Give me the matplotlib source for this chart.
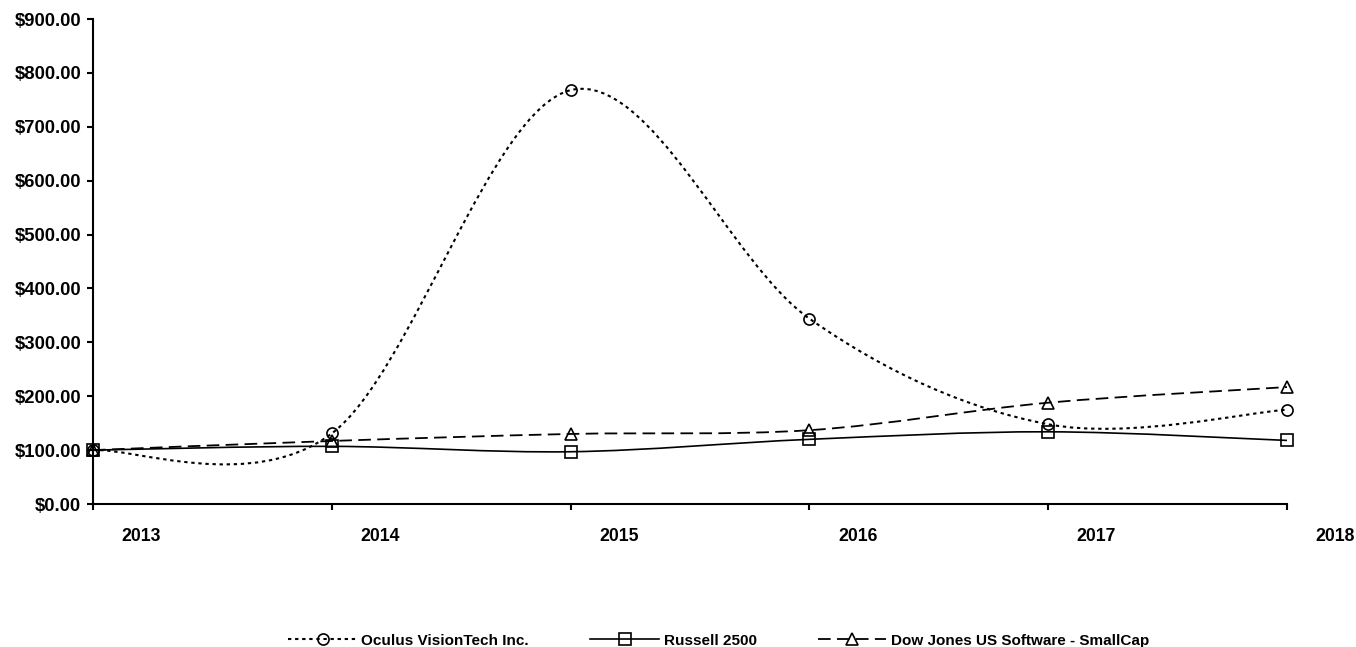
"""Five-year cumulative total return comparison (smoothed lines, Excel style)."""
import matplotlib
matplotlib.use("Agg")
import matplotlib.pyplot as plt
import numpy as np
from matplotlib.lines import Line2D
from matplotlib.path import Path
from matplotlib.patches import PathPatch
from matplotlib.ticker import FuncFormatter

plt.rcParams["font.family"] = ["Liberation Sans", "DejaVu Sans"]
plt.rcParams["font.weight"] = "bold"

years = ["2013", "2014", "2015", "2016", "2017", "2018"]
oculus = [100, 131, 768, 344, 148, 175]
russell = [100, 107, 97, 120, 134, 118]
dowjones = [100, 117, 130, 137, 188, 217]

series = [
    ("Oculus VisionTech Inc.", oculus, (0, (1.6, 1.8)), "o", 1.5),
    ("Russell 2500", russell, "-", "s", 1.2),
    ("Dow Jones US Software - SmallCap", dowjones, (0, (7.0, 3.5)), "^", 1.3),
]


def smooth_path(xs, ys):
    # Catmull-Rom style bezier segments, like Excel's "smoothed line"
    pts = np.column_stack([xs, ys]).astype(float)
    n = len(pts)
    verts = [pts[0]]
    codes = [Path.MOVETO]
    for i in range(n - 1):
        p0 = pts[max(i - 1, 0)]
        p1, p2 = pts[i], pts[i + 1]
        p3 = pts[min(i + 2, n - 1)]
        verts += [p1 + (p2 - p0) / 6, p2 - (p3 - p1) / 6, p2]
        codes += [Path.CURVE4] * 3
    return Path(verts, codes)


fig = plt.figure(figsize=(13.56, 6.47), dpi=100)
ax = fig.add_axes([0.0686, 0.2210, 0.8805, 0.7496])

x = np.arange(len(years))
handles = []
for name, vals, ls, mk, lw in series:
    ax.add_patch(PathPatch(smooth_path(x, vals), fill=False, edgecolor="black",
                           linewidth=lw, linestyle=ls, capstyle="butt"))
    ax.plot(x, vals, ls="none", marker=mk, markersize=8, markerfacecolor="none",
            markeredgecolor="black", markeredgewidth=1.2, clip_on=False, zorder=3)
    handles.append(Line2D([], [], color="black", lw=lw, ls=ls, marker=mk, markersize=8,
                          markerfacecolor="none", markeredgewidth=1.2))

ax.set_xlim(0, len(years) - 1)
ax.set_ylim(0, 900)
ax.set_yticks(np.arange(0, 901, 100))
ax.yaxis.set_major_formatter(FuncFormatter(lambda v, _: f"${v:,.2f}"))
ax.set_xticks(x)
ax.set_xticklabels([])
for s in ("top", "right"):
    ax.spines[s].set_visible(False)
for s in ("left", "bottom"):
    ax.spines[s].set_linewidth(1.5)
ax.tick_params(axis="both", direction="out", length=4.5, width=1.5)
ax.tick_params(axis="y", labelsize=13.3, pad=4)

# year labels sit to the right of each tick mark, as in the original
for i, yr in enumerate(years):
    ax.text(i + 0.202, -0.066, yr, transform=ax.get_xaxis_transform(), ha="center",
            va="center", fontsize=12.7, fontweight="bold", clip_on=False)

fig.legend(handles, [s[0] for s in series], loc="center", bbox_to_anchor=(0.530, 0.010),
           ncol=3, frameon=False, fontsize=11, handlelength=4.5, handletextpad=0.3,
           columnspacing=4.0, numpoints=1)

fig.savefig("out.png", dpi=100)
